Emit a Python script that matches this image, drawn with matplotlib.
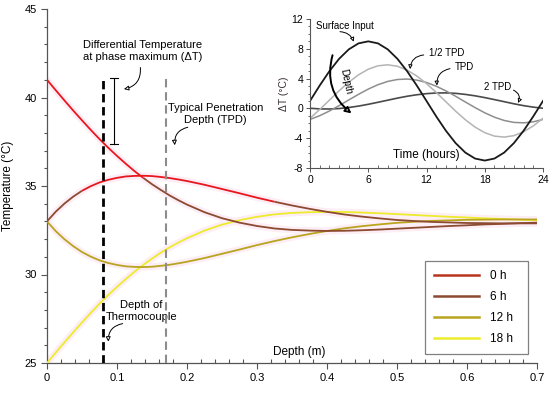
import matplotlib
matplotlib.use('Agg')
import matplotlib.pyplot as plt
from matplotlib.ticker import MultipleLocator

plt.rcParams['font.family'] = ['Liberation Sans', 'DejaVu Sans']
plt.rcParams['axes.unicode_minus'] = False

# ---------------- main chart data ----------------
depth = [0, 0.0125, 0.025, 0.0375, 0.05, 0.0625, 0.075, 0.0875, 0.1, 0.1125,
         0.125, 0.1375, 0.15, 0.1625, 0.175, 0.1875, 0.2, 0.225, 0.25, 0.275,
         0.3, 0.325, 0.35, 0.375, 0.4, 0.425, 0.45, 0.475, 0.5, 0.525, 0.55,
         0.575, 0.6, 0.625, 0.65, 0.675, 0.7]
T_0h = [41.00, 40.41, 39.83, 39.26, 38.71, 38.17, 37.65, 37.16, 36.70, 36.26,
        35.84, 35.46, 35.10, 34.78, 34.47, 34.20, 33.95, 33.52, 33.18, 32.93,
        32.74, 32.60, 32.52, 32.48, 32.46, 32.47, 32.50, 32.54, 32.59, 32.64,
        32.69, 32.74, 32.78, 32.83, 32.86, 32.90, 32.93]
T_6h = [33.00, 33.55, 34.01, 34.40, 34.73, 34.99, 35.20, 35.35, 35.46, 35.54,
        35.57, 35.58, 35.56, 35.51, 35.45, 35.37, 35.28, 35.07, 34.83, 34.59,
        34.34, 34.11, 33.90, 33.71, 33.54, 33.39, 33.27, 33.17, 33.08, 33.02,
        32.97, 32.94, 32.91, 32.90, 32.89, 32.89, 32.89]
T_12h = [33.00, 32.45, 31.99, 31.60, 31.27, 31.01, 30.80, 30.65, 30.54, 30.46,
         30.43, 30.42, 30.44, 30.49, 30.55, 30.63, 30.72, 30.93, 31.17, 31.41,
         31.66, 31.89, 32.10, 32.29, 32.46, 32.61, 32.73, 32.83, 32.92, 32.98,
         33.03, 33.06, 33.09, 33.10, 33.11, 33.11, 33.11]
T_18h = [25.00, 25.59, 26.17, 26.74, 27.29, 27.83, 28.35, 28.84, 29.30, 29.74,
         30.16, 30.54, 30.90, 31.23, 31.53, 31.80, 32.05, 32.48, 32.82, 33.07,
         33.26, 33.40, 33.48, 33.52, 33.54, 33.53, 33.50, 33.46, 33.41, 33.36,
         33.31, 33.26, 33.22, 33.17, 33.14, 33.10, 33.07]
series_labels = ['0 h', '6 h', '12 h', '18 h']
thermocouple_depth = 0.08
tpd_depth = 0.17
dT_bar = [37.4, 41.1]

# ---------------- inset data ----------------
hours = list(range(25))
surface = [1.00, 3.07, 5.00, 6.66, 7.93, 8.73, 9.00, 8.73, 7.93, 6.66, 5.00, 3.07,
           1.00, -1.07, -3.00, -4.66, -5.93, -6.73, -7.00, -6.73, -5.93, -4.66,
           -3.00, -1.07, 1.00]
half_tpd = [-1.33, -0.15, 1.11, 2.37, 3.52, 4.51, 5.26, 5.72, 5.85, 5.66, 5.14,
            4.35, 3.33, 2.15, 0.89, -0.37, -1.52, -2.51, -3.26, -3.72, -3.85,
            -3.66, -3.14, -2.35, -1.33]
tpd = [-1.48, -0.98, -0.35, 0.37, 1.14, 1.89, 2.59, 3.18, 3.62, 3.88, 3.94, 3.80,
       3.48, 2.98, 2.35, 1.63, 0.86, 0.11, -0.59, -1.18, -1.62, -1.88, -1.94,
       -1.80, -1.48]
two_tpd = [0.02, -0.07, -0.08, -0.02, 0.12, 0.31, 0.55, 0.82, 1.10, 1.38, 1.63,
           1.83, 1.98, 2.07, 2.08, 2.02, 1.88, 1.69, 1.45, 1.18, 0.90, 0.62, 0.37,
           0.17, 0.02]

RED = '#e8161e'
BROWN = '#8c4a30'
OLIVE = '#b8a41e'
YELLOW = '#ecec2c'
GLOW_C = '#fdeef5'

fig = plt.figure(figsize=(5.5, 3.95), dpi=100)
ax = fig.add_axes([47/550, 32/395, 490/550, 354/395])

all_series = [T_0h, T_6h, T_12h, T_18h]
for ys in all_series:
    ax.plot(depth, ys, color=GLOW_C, lw=5, solid_capstyle='round', zorder=2)

def seg_plot(x, y, pieces, lw=1.3):
    for (i0, i1, c) in pieces:
        ax.plot(x[i0:i1+1], y[i0:i1+1], color=c, lw=lw, solid_capstyle='butt',
                zorder=3)

n = len(depth) - 1
seg_plot(depth, T_18h, [(0, n, YELLOW)])
seg_plot(depth, T_12h, [(0, n, OLIVE)])
seg_plot(depth, T_0h, [(0, 11, RED), (11, n, BROWN)])
seg_plot(depth, T_6h, [(0, 4, BROWN), (4, 21, RED), (21, n, BROWN)])

# vertical dashed lines
ax.plot([thermocouple_depth, thermocouple_depth], [25, 41.1], color='black', lw=2.0,
        ls=(0, (3, 1.7)), zorder=4)
ax.plot([tpd_depth, tpd_depth], [25, 41.1], color='#8c8c8c', lw=1.5,
        ls=(0, (4, 2.3)), zorder=4)
# delta T bar
xb = 0.096
ax.plot([xb, xb], dT_bar, color='black', lw=0.8, zorder=4)
for yv in dT_bar:
    ax.plot([xb - 0.006, xb + 0.006], [yv, yv], color='black', lw=0.8, zorder=4)

ax.text(0.136, 42.6, 'Differential Temperature\nat phase maximum (\u0394T)',
        ha='center', va='center', fontsize=8, linespacing=1.25)
ax.annotate('', xy=(0.106, 40.45), xytext=(0.133, 41.85),
            arrowprops=dict(arrowstyle='-|>', fc='white', ec='black', lw=0.7,
                            connectionstyle='arc3,rad=-0.5', mutation_scale=7))
ax.text(0.241, 39.05, 'Typical Penetration\nDepth (TPD)', ha='center', va='center',
        fontsize=8, linespacing=1.25)
ax.annotate('', xy=(0.183, 37.15), xytext=(0.205, 38.35),
            arrowprops=dict(arrowstyle='-|>', fc='white', ec='black', lw=0.7,
                            connectionstyle='arc3,rad=0.5', mutation_scale=7))
ax.text(0.135, 27.95, 'Depth of\nThermocouple', ha='center', va='center',
        fontsize=8, linespacing=1.2)
ax.annotate('', xy=(0.088, 26.05), xytext=(0.112, 27.25),
            arrowprops=dict(arrowstyle='-|>', fc='white', ec='black', lw=0.7,
                            connectionstyle='arc3,rad=0.5', mutation_scale=7))
ax.text(0.323, 25.6, 'Depth (m)', ha='left', va='center', fontsize=8.5)

ax.set_xlim(0, 0.7)
ax.set_ylim(25, 45)
for s in ['top', 'right']:
    ax.spines[s].set_visible(False)
for s in ['left', 'bottom']:
    ax.spines[s].set_color('#555555')
    ax.spines[s].set_linewidth(0.9)
ax.xaxis.set_minor_locator(MultipleLocator(0.02))
ax.yaxis.set_major_locator(MultipleLocator(5))
ax.yaxis.set_minor_locator(MultipleLocator(1))
ax.set_xticks([0, 0.1, 0.2, 0.3, 0.4, 0.5, 0.6, 0.7])
ax.set_xticklabels(['0', '0.1', '0.2', '0.3', '0.4', '0.5', '0.6', '0.7'])
ax.tick_params(axis='x', which='major', direction='out', length=4, width=0.8,
               color='#555555', labelsize=8, pad=3)
ax.tick_params(axis='x', which='minor', direction='in', length=3, width=0.8,
               color='#555555')
ax.tick_params(axis='y', which='major', direction='out', length=4, width=0.8,
               color='#555555', labelsize=8, pad=3)
ax.tick_params(axis='y', which='minor', direction='out', length=2.5, width=0.8,
               color='#555555')
ax.set_ylabel('Temperature (\u00b0C)', fontsize=8.5, labelpad=8)

handles = []
leg_colors = ['#b8341f', BROWN, OLIVE, YELLOW]
for c, lab in zip(leg_colors, series_labels):
    h, = ax.plot([], [], color=c, lw=1.8, label=lab)
    handles.append(h)
leg = ax.legend(handles=handles, loc='lower left',
                bbox_to_anchor=(0.771, 0.025, 0.211, 0.241), mode='expand',
                borderaxespad=0, fontsize=8.5, handlelength=3.8, handletextpad=0.9,
                labelspacing=0.75, fancybox=False, framealpha=1,
                edgecolor='#808080', borderpad=0.8)
leg.get_frame().set_linewidth(0.9)

# ---------------- inset ----------------
ai = fig.add_axes([310/550, (395-168)/395, 233/550, 149/395])
ai.plot(hours, two_tpd, color='#4a4a4a', lw=1.2)
ai.plot(hours, tpd, color='#8e8e8e', lw=1.1)
ai.plot(hours, half_tpd, color='#b4b4b4', lw=1.1)
ai.plot(hours, surface, color='#1a1a1a', lw=1.3)
ai.set_xlim(0, 24)
ai.set_ylim(-8, 12)
ai.patch.set_alpha(0)
for s in ['top', 'right']:
    ai.spines[s].set_visible(False)
for s in ['left', 'bottom']:
    ai.spines[s].set_color('#555555')
    ai.spines[s].set_linewidth(0.8)
ai.xaxis.set_major_locator(MultipleLocator(6))
ai.xaxis.set_minor_locator(MultipleLocator(1))
ai.yaxis.set_major_locator(MultipleLocator(4))
ai.yaxis.set_minor_locator(MultipleLocator(1))
ai.tick_params(axis='x', which='major', direction='out', length=3, width=0.7,
               color='#555555', labelsize=7.5, pad=2)
ai.tick_params(axis='x', which='minor', direction='in', length=2, width=0.6,
               color='#555555')
ai.tick_params(axis='y', which='major', direction='out', length=3, width=0.7,
               color='#555555', labelsize=7.5, pad=2)
ai.tick_params(axis='y', which='minor', direction='out', length=1.5, width=0.6,
               color='#555555')
ai.set_ylabel('\u0394T (\u00b0C)', fontsize=7.5, labelpad=2, color='#3a3030')
ai.text(12, -6.3, 'Time (hours)', ha='center', va='center', fontsize=8.5)

arrow_kw = dict(arrowstyle='-|>', fc='white', ec='black', lw=0.7, mutation_scale=6)
ai.text(0.6, 11.0, 'Surface Input', ha='left', va='center', fontsize=7)
ai.annotate('', xy=(4.6, 8.6), xytext=(2.8, 10.3),
            arrowprops=dict(connectionstyle='arc3,rad=-0.4', **arrow_kw))
ai.text(12.3, 7.4, '1/2 TPD', ha='left', va='center', fontsize=7)
ai.annotate('', xy=(10.3, 4.9), xytext=(12.0, 7.2),
            arrowprops=dict(connectionstyle='arc3,rad=0.5', **arrow_kw))
ai.text(14.9, 5.6, 'TPD', ha='left', va='center', fontsize=7)
ai.annotate('', xy=(13.1, 2.7), xytext=(14.7, 5.4),
            arrowprops=dict(connectionstyle='arc3,rad=0.5', **arrow_kw))
ai.text(17.9, 2.9, '2 TPD', ha='left', va='center', fontsize=7)
ai.annotate('', xy=(21.3, 0.4), xytext=(20.7, 2.6),
            arrowprops=dict(connectionstyle='arc3,rad=-0.6', **arrow_kw))
ai.annotate('', xy=(4.5, -0.9), xytext=(2.4, 7.5),
            arrowprops=dict(arrowstyle='-|>', fc='white', ec='black', lw=1.4,
                            mutation_scale=9, connectionstyle='arc3,rad=0.35'))
ai.text(3.7, 3.6, 'Depth', rotation=-78, ha='center', va='center', fontsize=7)

fig.savefig('out.png', dpi=100)
